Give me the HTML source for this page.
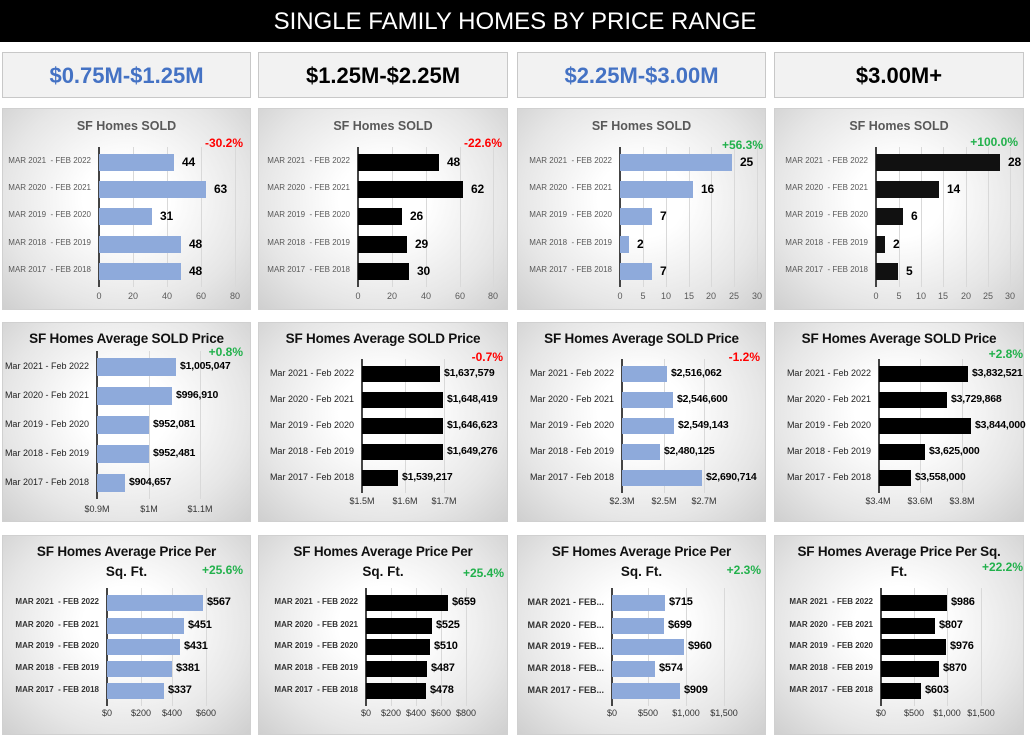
<!DOCTYPE html>
<html><head><meta charset="utf-8"><style>
body{margin:0;width:1030px;height:738px;position:relative;background:#fff;font-family:"Liberation Sans",Arial,sans-serif;overflow:hidden}
.a{position:absolute;white-space:nowrap}
.hdr{position:absolute;left:0;top:0;width:1030px;height:42px;background:#000;color:#fff;font-size:24px;text-align:center;line-height:44px}
.rng{position:absolute;top:52px;height:46px;background:#f2f2f2;border:1px solid #c8c8c8;box-sizing:border-box;text-align:center;line-height:46px;font-size:22px;font-weight:bold}
.pan{position:absolute;background:radial-gradient(ellipse at 50% 45%,#ffffff 25%,#e6e6e6 70%,#cfcfcf 100%);border:1px solid #d0d0d0;box-sizing:border-box}
</style></head><body>
<div class="hdr">SINGLE FAMILY HOMES BY PRICE RANGE</div>
<div class="rng" style="left:2px;width:249px;color:#4472c4">$0.75M-$1.25M</div>
<div class="rng" style="left:258px;width:250px;color:#000">$1.25M-$2.25M</div>
<div class="rng" style="left:517px;width:249px;color:#4472c4">$2.25M-$3.00M</div>
<div class="rng" style="left:774px;width:250px;color:#000">$3.00M+</div>
<div id="root"></div>
<script>
var cols=[[2,251],[258,508],[517,766],[774,1024]];
var rows=[[108,310],[322,522],[535,735]];
var L1=["MAR 2021  - FEB 2022","MAR 2020  - FEB 2021","MAR 2019  - FEB 2020","MAR 2018  - FEB 2019","MAR 2017  - FEB 2018"];
var L2=["Mar 2021 - Feb 2022","Mar 2020 - Feb 2021","Mar 2019 - Feb 2020","Mar 2018 - Feb 2019","Mar 2017 - Feb 2018"];
var L3=["MAR 2021  - FEB 2022","MAR 2020  - FEB 2021","MAR 2019  - FEB 2020","MAR 2018  - FEB 2019","MAR 2017  - FEB 2018"];
var L3t=["MAR 2021 - FEB...","MAR 2020 - FEB...","MAR 2019 - FEB...","MAR 2018 - FEB...","MAR 2017 - FEB..."];
var B="#8eaadb",K="#000",R="#ff0000",G="#22b14c";
var P=[
{r:0,c:0,ax:99,ys:[162,189,216,244,271],bh:17,lab:L1,ls:1,col:B,ends:[174,206,152,181,181],vals:["44","63","31","48","48"],ticks:[[99,"0"],[133,"20"],[167,"40"],[201,"60"],[235,"80"]],ty:298,pct:["-30.2%",R,243,144]},
{r:0,c:1,ax:358,ys:[162,189,216,244,271],bh:17,lab:L1,ls:1,col:K,ends:[439,463,402,407,409],vals:["48","62","26","29","30"],ticks:[[358,"0"],[392,"20"],[426,"40"],[460,"60"],[493,"80"]],ty:298,pct:["-22.6%",R,502,144]},
{r:0,c:2,ax:620,ys:[162,189,216,244,271],bh:17,lab:L1,ls:1,col:B,ends:[732,693,652,629,652],vals:["25","16","7","2","7"],ticks:[[620,"0"],[643,"5"],[666,"10"],[689,"15"],[711,"20"],[734,"25"],[757,"30"]],ty:298,pct:["+56.3%",G,763,146]},
{r:0,c:3,ax:876,ys:[162,189,216,244,271],bh:17,lab:L1,ls:1,col:"#111",ends:[1000,939,903,885,898],vals:["28","14","6","2","5"],ticks:[[876,"0"],[899,"5"],[921,"10"],[943,"15"],[966,"20"],[988,"25"],[1010,"30"]],ty:298,pct:["+100.0%",G,1018,143]},
{r:1,c:0,ax:97,ys:[367,396,425,454,483],bh:18,lab:L2,ls:2,col:B,ends:[176,172,149,149,125],vals:["$1,005,047","$996,910","$952,081","$952,481","$904,657"],ticks:[[97,"$0.9M"],[149,"$1M"],[200,"$1.1M"]],ty:511,pct:["+0.8%",G,243,353]},
{r:1,c:1,ax:362,ys:[374,400,426,452,478],bh:16,lab:L2,ls:2,col:K,ends:[440,443,443,443,398],vals:["$1,637,579","$1,648,419","$1,646,623","$1,649,276","$1,539,217"],ticks:[[362,"$1.5M"],[405,"$1.6M"],[444,"$1.7M"]],ty:503,pct:["-0.7%",R,503,358]},
{r:1,c:2,ax:622,ys:[374,400,426,452,478],bh:16,lab:L2,ls:2,col:B,ends:[667,673,674,660,702],vals:["$2,516,062","$2,546,600","$2,549,143","$2,480,125","$2,690,714"],ticks:[[622,"$2.3M"],[664,"$2.5M"],[704,"$2.7M"]],ty:503,pct:["-1.2%",R,760,358]},
{r:1,c:3,ax:879,ys:[374,400,426,452,478],bh:16,lab:L2,ls:2,col:K,ends:[968,947,971,925,911],vals:["$3,832,521","$3,729,868","$3,844,000","$3,625,000","$3,558,000"],ticks:[[878,"$3.4M"],[920,"$3.6M"],[962,"$3.8M"]],ty:503,pct:["+2.8%",G,1023,355]},
{r:2,c:0,ax:107,ys:[603,626,647,669,691],bh:16,lab:L3,ls:3,col:B,ends:[203,184,180,172,164],vals:["$567","$451","$431","$381","$337"],ticks:[[107,"$0"],[141,"$200"],[172,"$400"],[206,"$600"]],ty:715,pct:["+25.6%",G,243,571],t2:["SF Homes Average Price Per","Sq. Ft."]},
{r:2,c:1,ax:366,ys:[603,626,647,669,691],bh:16,lab:L3,ls:3,col:K,ends:[448,432,430,427,426],vals:["$659","$525","$510","$487","$478"],ticks:[[366,"$0"],[391,"$200"],[416,"$400"],[441,"$600"],[466,"$800"]],ty:715,pct:["+25.4%",G,504,574],t2:["SF Homes Average Price Per","Sq. Ft."]},
{r:2,c:2,ax:612,ys:[603,626,647,669,691],bh:16,lab:L3t,ls:4,col:B,ends:[665,664,684,655,680],vals:["$715","$699","$960","$574","$909"],ticks:[[612,"$0"],[648,"$500"],[686,"$1,000"],[724,"$1,500"]],ty:715,pct:["+2.3%",G,761,571],t2:["SF Homes Average Price Per","Sq. Ft."]},
{r:2,c:3,ax:881,ys:[603,626,647,669,691],bh:16,lab:L3,ls:3,col:K,ends:[947,935,946,939,921],vals:["$986","$807","$976","$870","$603"],ticks:[[881,"$0"],[914,"$500"],[947,"$1,000"],[981,"$1,500"]],ty:715,pct:["+22.2%",G,1023,568],t2:["SF Homes Average Price Per Sq.","Ft."]}
];
var h="";
function d(s,st){h+='<div class="a" style="'+st+'">'+s+'</div>';}
P.forEach(function(p){
 var x0=cols[p.c][0],x1=cols[p.c][1],y0=rows[p.r][0],y1=rows[p.r][1],w=x1-x0;
 h+='<div class="pan" style="left:'+x0+'px;top:'+y0+'px;width:'+w+'px;height:'+(y1-y0)+'px"></div>';
 if(p.r==0) d("SF Homes SOLD","left:"+x0+"px;width:"+w+"px;text-align:center;top:119px;font-size:12.5px;font-weight:bold;color:#595959");
 else if(p.r==1) d("SF Homes Average SOLD Price","left:"+x0+"px;width:"+w+"px;text-align:center;top:331px;font-size:13.5px;font-weight:bold;color:#111;letter-spacing:-0.2px");
 else {d(p.t2[0],"left:"+x0+"px;width:"+w+"px;text-align:center;top:544px;font-size:13.5px;font-weight:bold;color:#111;letter-spacing:-0.2px");
       d(p.t2[1],"left:"+x0+"px;width:"+w+"px;text-align:center;top:564px;font-size:13.5px;font-weight:bold;color:#111");}
 var top=p.ys[0]-p.bh/2-7,bot=p.ys[4]+p.bh/2+7;
 p.ticks.forEach(function(t,i){ if(i>0) d("","left:"+t[0]+"px;top:"+top+"px;width:1px;height:"+(bot-top)+"px;background:#d9d9d9");
   d(t[1],"left:"+(t[0]-30)+"px;width:60px;text-align:center;top:"+(p.ty-7)+"px;font-size:9px;color:"+(p.r==0?"#595959":"#333"));});
 d("","left:"+(p.ax-1)+"px;top:"+top+"px;width:2px;height:"+(bot-top)+"px;background:#444");
 p.ys.forEach(function(y,i){
  d("","left:"+p.ax+"px;top:"+(y-p.bh/2)+"px;width:"+(p.ends[i]-p.ax)+"px;height:"+p.bh+"px;background:"+p.col);
  var fs=p.r==0?12:(p.r==1?10.5:11);
  d(p.vals[i],"left:"+(p.ends[i]+(p.r==0?8:4))+"px;top:"+(y-7)+"px;font-size:"+fs+"px;font-weight:bold;color:#000;letter-spacing:-0.2px");
  var ls=p.ls, st;
  if(ls==1) st="font-size:8px;color:#595959";
  else if(ls==2) st="font-size:9px;color:#222";
  else st="font-size:8px;font-weight:bold;color:#333";
  if(ls==4) st="font-size:9px;font-weight:bold;color:#333";
  d(p.lab[i],"right:"+(1030-(p.ax-8))+"px;top:"+(y-6)+"px;white-space:pre;"+st);
 });
 d(p.pct[0],"right:"+(1030-p.pct[2])+"px;top:"+(p.pct[3]-8)+"px;font-size:12px;font-weight:bold;color:"+p.pct[1]);
});
document.getElementById("root").innerHTML=h;
</script>
</body></html>
